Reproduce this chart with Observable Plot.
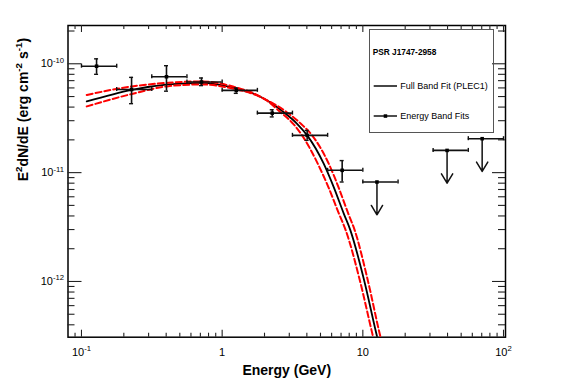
<!DOCTYPE html>
<html><head><meta charset="utf-8">
<script src="https://cdn.jsdelivr.net/npm/d3@7"></script>
<script src="https://cdn.jsdelivr.net/npm/@observablehq/plot@0.6"></script>
<style>
html,body{margin:0;padding:0;background:#fff;}
#wrap{position:relative;width:567px;height:384px;font-family:"Liberation Sans",Arial,Helvetica,sans-serif;}
#legend{position:absolute;left:369px;top:29px;width:125px;height:104px;box-sizing:border-box;border:1px solid #555;}
#legend svg{position:absolute;left:-1px;top:-1px;overflow:visible;}
</style></head><body><div id="wrap"><div id="legend"></div></div>
<script>
// ---------- data ----------
// Energy band fits (detections)
const bandEnergy = [0.128, 0.227, 0.402, 0.713, 1.26, 2.27, 4.02, 7.13];
const bandELo    = [0.1, 0.178, 0.316, 0.562, 1.0, 1.78, 3.16, 5.62];
const bandEHi    = [0.178, 0.316, 0.562, 1.0, 1.78, 3.16, 5.62, 10];
const bandFlux   = [9.5e-11, 5.8e-11, 7.6e-11, 6.8e-11, 5.7e-11, 3.52e-11, 2.2e-11, 1.05e-11];
const bandFluxLo = [8.0e-11, 4.3e-11, 5.6e-11, 6.3e-11, 5.35e-11, 3.25e-11, 1.98e-11, 8.2e-12];
const bandFluxHi = [1.11e-10, 7.5e-11, 9.6e-11, 7.4e-11, 6.0e-11, 3.78e-11, 2.44e-11, 1.29e-11];
// Upper limits
const ulEnergy = [12.6, 39.7, 70.5];
const ulELo    = [10, 31.6, 56.2];
const ulEHi    = [17.8, 56.2, 100];
const ulFlux   = [8.2e-12, 1.6e-11, 2.05e-11];
// Full band fit (PLEC1)
const fitE = [0.109, 0.228, 0.415, 0.716, 1.21, 1.68, 2.09, 2.74, 3.41, 4.02, 5.27, 6.21, 7.32, 8.16, 10.15, 12.64, 13.34];
const fitF = [4.51e-11, 5.77e-11, 6.46e-11, 6.69e-11, 6.02e-11, 5.30e-11, 4.60e-11, 3.59e-11, 2.81e-11, 2.20e-11, 1.21e-11, 7.36e-12, 4.20e-12, 2.95e-12, 1.06e-12, 3.09e-13, 2.33e-13];
// Error band (red dashed), two edges
const bandAE = [0.109, 0.228, 0.415, 0.716, 1.21, 1.68, 2.09, 2.60, 3.20, 3.70, 4.78, 5.69, 6.76, 7.56, 9.46, 11.84, 12.50];
const bandAF = [5.17e-11, 6.19e-11, 6.69e-11, 6.88e-11, 6.15e-11, 5.34e-11, 4.57e-11, 3.59e-11, 2.81e-11, 2.20e-11, 1.21e-11, 7.36e-12, 4.20e-12, 2.95e-12, 1.06e-12, 3.09e-13, 2.33e-13];
const bandBE = [0.109, 0.228, 0.415, 0.716, 1.21, 1.68, 2.09, 2.88, 3.63, 4.36, 5.72, 6.71, 7.88, 8.76, 10.78, 13.34, 14.08];
const bandBF = [4.06e-11, 5.28e-11, 6.23e-11, 6.46e-11, 5.89e-11, 5.25e-11, 4.62e-11, 3.59e-11, 2.81e-11, 2.20e-11, 1.21e-11, 7.36e-12, 4.20e-12, 2.95e-12, 1.06e-12, 3.09e-13, 2.33e-13];
// Axes
const xTickValues = [0.1, 1, 10, 100];
const xTickLabels = ["10^{-1}", "1", "10", "10^{2}"];
const xMinorTicks = [0.09, 0.2, 0.3, 0.4, 0.5, 0.6, 0.7, 0.8, 0.9, 2, 3, 4, 5, 6, 7, 8, 9, 20, 30, 40, 50, 60, 70, 80, 90];
const yTickValues = [1e-12, 1e-11, 1e-10];
const yTickLabels = ["10^{-12}", "10^{-11}", "10^{-10}"];
const yMinorTicks = [4e-13, 5e-13, 6e-13, 7e-13, 8e-13, 9e-13, 2e-12, 3e-12, 4e-12, 5e-12, 6e-12, 7e-12, 8e-12, 9e-12, 2e-11, 3e-11, 4e-11, 5e-11, 6e-11, 7e-11, 8e-11, 9e-11, 2e-10];
const xDomain = [0.0802, 103.3];
const yDomain = [3.077e-13, 2.247e-10];
const xTitle = "Energy (GeV)";
const yTitle = "E^{2}dN/dE (erg cm^{-2} s^{-1})";
const legendTitle = "PSR J1747-2958";
const legendLabels = ["Full Band Fit (PLEC1)", "Energy Band Fits"];

// ---------- tables ----------
const fit = fitE.map((e, i) => ({E: e, F: fitF[i]}));
const bandA = bandAE.map((e, i) => ({E: e, F: bandAF[i]}));
const bandB = bandBE.map((e, i) => ({E: e, F: bandBF[i]}));
const pts = bandEnergy.map((e, i) => ({E: e, lo: bandELo[i], hi: bandEHi[i], F: bandFlux[i], fLo: bandFluxLo[i], fHi: bandFluxHi[i]}));
const uls = ulEnergy.map((e, i) => ({E: e, lo: ulELo[i], hi: ulEHi[i], F: ulFlux[i]}));
const allPts = pts.concat(uls);

// layout
const W = 567, H = 384, mL = 67.5, mR = 62, mT = 25, mB = 47.3;
const fW = W - mL - mR, fH = H - mT - mB;
const ink = "#111";
const tickInk = "#222";
// inward axis ticks: full-frame ticks shortened by insets
const tk = (vals, side, len) => {
  if (side === "bottom") return Plot.tickX(vals, {x: d => d, insetTop: fH - len, stroke: tickInk, strokeWidth: 1.1});
  if (side === "top") return Plot.tickX(vals, {x: d => d, insetBottom: fH - len, stroke: tickInk, strokeWidth: 1.1});
  if (side === "left") return Plot.tickY(vals, {y: d => d, insetRight: fW - len, stroke: tickInk, strokeWidth: 1.1});
  return Plot.tickY(vals, {y: d => d, insetLeft: fW - len, stroke: tickInk, strokeWidth: 1.1});
};

const svg = Plot.plot({
  width: W, height: H,
  marginLeft: mL, marginRight: mR, marginTop: mT, marginBottom: mB,
  x: {type: "log", domain: xDomain},
  y: {type: "log", domain: yDomain},
  style: {fontFamily: '"Liberation Sans", Arial, Helvetica, sans-serif', fontSize: "11px", color: "#000", background: "#fff", overflow: "visible"},
  marks: [
    Plot.frame({stroke: "#000", fill: "none", strokeWidth: 1.5}),
    Plot.axisX({anchor: "bottom", ticks: xTickValues, tickSize: 0, tickPadding: 11, tickFormat: d => xTickLabels[xTickValues.indexOf(d)], label: null, fontSize: 11}),
    Plot.axisY({anchor: "left", ticks: yTickValues, tickSize: 0, tickPadding: 4, tickFormat: d => yTickLabels[yTickValues.indexOf(d)], label: null, fontSize: 11}),
    tk(xMinorTicks, "bottom", 4), tk(xTickValues, "bottom", 7),
    tk(xMinorTicks, "top", 4), tk(xTickValues, "top", 7),
    tk(yMinorTicks, "left", 7), tk(yTickValues, "left", 14),
    tk(yMinorTicks, "right", 7), tk(yTickValues, "right", 13),
    Plot.line(fit, {x: "E", y: "F", stroke: "#000", strokeWidth: 1.8, curve: "monotone-x", clip: true}),
    Plot.line(bandA, {x: "E", y: "F", stroke: "#ff0000", strokeWidth: 2, strokeDasharray: "6,3", curve: "monotone-x", clip: true}),
    Plot.line(bandB, {x: "E", y: "F", stroke: "#ff0000", strokeWidth: 2, strokeDasharray: "6,3", curve: "monotone-x", clip: true}),
    // horizontal (energy) bars with end caps
    Plot.ruleY(allPts, {y: "F", x1: "lo", x2: "hi", stroke: ink, strokeWidth: 1.6}),
    Plot.ruleX(allPts, {x: "lo", y1: "F", y2: "F", insetTop: -2, insetBottom: -2, stroke: ink, strokeWidth: 1.4}),
    Plot.ruleX(allPts, {x: "hi", y1: "F", y2: "F", insetTop: -2, insetBottom: -2, stroke: ink, strokeWidth: 1.4}),
    // vertical (flux) bars with caps
    Plot.ruleX(pts, {x: "E", y1: "fLo", y2: "fHi", stroke: ink, strokeWidth: 1.6}),
    Plot.ruleY(pts, {y: "fLo", x1: "E", x2: "E", insetLeft: -2, insetRight: -2, stroke: ink, strokeWidth: 1.4}),
    Plot.ruleY(pts, {y: "fHi", x1: "E", x2: "E", insetLeft: -2, insetRight: -2, stroke: ink, strokeWidth: 1.4}),
    // upper-limit arrows
    Plot.arrow(uls, {x1: "E", x2: "E", y1: "F", y2: d => d.F / 2, headAngle: 62, headLength: 11, stroke: ink, strokeWidth: 1.5}),
    Plot.dot(allPts, {x: "E", y: "F", symbol: "square", r: 2, fill: "#000"}),
    // axis titles
    Plot.text([xTitle], {text: d => d, frameAnchor: "bottom", dy: 33, lineAnchor: "middle", fontSize: 14, fontWeight: "bold", fill: "#000"}),
    Plot.text([yTitle], {text: d => d, frameAnchor: "left", dx: -44.5, rotate: -90, lineAnchor: "middle", fontSize: 14, fontWeight: "bold", fill: "#000"})
  ]
});
const wrap = document.getElementById("wrap");
wrap.insertBefore(svg, wrap.firstChild);

// turn ^{...} into raised, smaller tspans
const NS = "http://www.w3.org/2000/svg";
svg.querySelectorAll("text").forEach(t => {
  const s = t.textContent;
  if (!s.includes("^{")) return;
  const fs = parseFloat(getComputedStyle(t).fontSize) || 11;
  const shift = fs * 0.42;
  t.textContent = "";
  let raised = false;
  const add = (str, sup) => {
    const sp = document.createElementNS(NS, "tspan");
    sp.textContent = str;
    if (sup) { sp.setAttribute("font-size", (fs * 0.7).toFixed(2)); if (!raised) { sp.setAttribute("dy", -shift); raised = true; } }
    else if (raised) { sp.setAttribute("dy", shift); raised = false; }
    t.appendChild(sp);
  };
  const re = /\^\{([^}]*)\}/g; let last = 0, m;
  while ((m = re.exec(s))) {
    if (m.index > last) add(s.slice(last, m.index), false);
    add(m[1], true);
    last = re.lastIndex;
  }
  if (last < s.length) add(s.slice(last), false);
});

// legend
const lg = d3.select("#legend").append("svg").attr("width", 125).attr("height", 104)
  .style("font-family", '"Liberation Sans", Arial, Helvetica, sans-serif');
lg.append("text").attr("x", 3.7).attr("y", 22.5).attr("dominant-baseline", "central")
  .attr("font-size", 8.3).attr("font-weight", "bold").text(legendTitle);
lg.append("line").attr("x1", 4.7).attr("x2", 28).attr("y1", 57).attr("y2", 57).attr("stroke", "#333").attr("stroke-width", 1.8);
lg.append("text").attr("x", 31.3).attr("y", 57).attr("dominant-baseline", "central").attr("font-size", 9).text(legendLabels[0]);
lg.append("line").attr("x1", 4.7).attr("x2", 28).attr("y1", 87).attr("y2", 87).attr("stroke", "#222").attr("stroke-width", 1.6);
lg.append("rect").attr("x", 14.7).attr("y", 85.3).attr("width", 3.5).attr("height", 3.5).attr("fill", "#000");
lg.append("text").attr("x", 31.3).attr("y", 87).attr("dominant-baseline", "central").attr("font-size", 9).text(legendLabels[1]);
</script></body></html>
